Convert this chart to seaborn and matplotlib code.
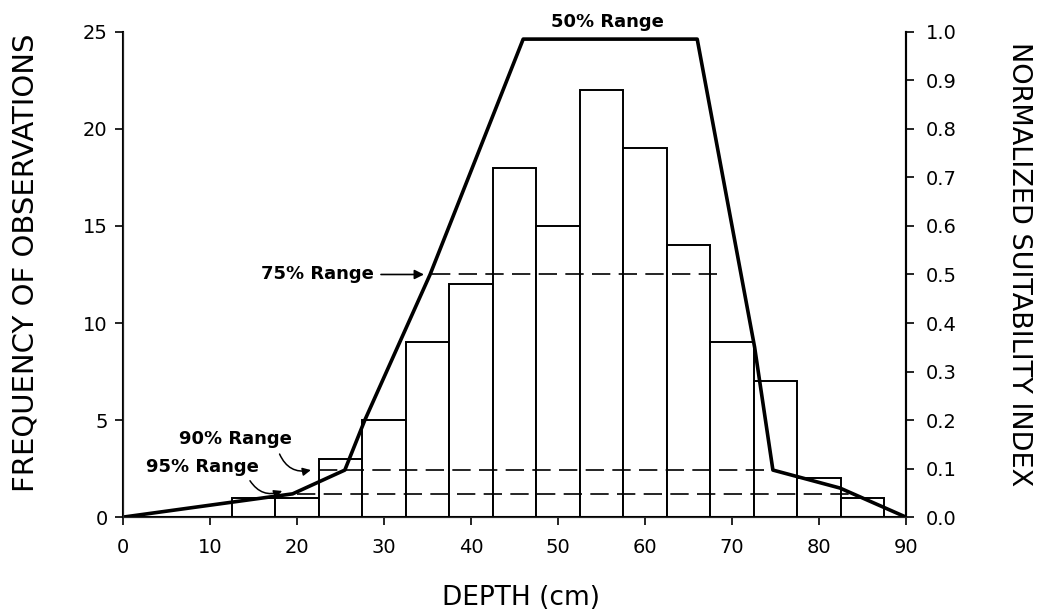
import numpy as np
import matplotlib
matplotlib.use("Agg")
import matplotlib.pyplot as plt
import seaborn as sns

# histogram of depths (5 cm classes)
bin_edges = [12.5, 17.5, 22.5, 27.5, 32.5, 37.5, 42.5, 47.5, 52.5, 57.5, 62.5, 67.5, 72.5, 77.5, 82.5, 87.5]
depth_mid = [15, 20, 25, 30, 35, 40, 45, 50, 55, 60, 65, 70, 75, 80, 85]
freq = [1, 1, 3, 5, 9, 12, 18, 15, 22, 19, 14, 9, 7, 2, 1]

# suitability index curve
curve_depth = [0, 19.5, 25.5, 27.8, 35.3, 46, 66, 72.6, 74.7, 82.4, 90]
curve_index = [0, 0.048, 0.097, 0.2, 0.5, 0.985, 0.985, 0.35, 0.097, 0.06, 0]

# range lines: (label, start, end, index level)
range_names = ["75% Range", "90% Range", "95% Range"]
range_start = [35.5, 22.5, 20.0]
range_end = [69.0, 74.7, 84.4]
range_level = [0.5, 0.097, 0.048]

left_ticks = [0, 5, 10, 15, 20, 25]
right_ticks = [0.0, 0.1, 0.2, 0.3, 0.4, 0.5, 0.6, 0.7, 0.8, 0.9, 1.0]
x_ticks = [0, 10, 20, 30, 40, 50, 60, 70, 80, 90]

sns.set_style("ticks")
plt.rcParams['font.family'] = ['DejaVu Sans']
plt.rcParams.update({"text.color": "black", "axes.labelcolor": "black",
                     "xtick.color": "black", "ytick.color": "black"})

fig = plt.figure(figsize=(10.42, 6.12), dpi=100)
ax = fig.add_axes([0.118, 0.155, 0.7515, 0.793])

sns.histplot(x=depth_mid, weights=freq, bins=bin_edges, ax=ax, color="white",
             edgecolor="black", linewidth=1.4, alpha=1)
ax.set_xlim(0, 90)
ax.set_ylim(0, 25)
ax.set_yticks(left_ticks)
ax.set_xticks(x_ticks)
ax.set_ylabel("")
ax.set_xlabel("")
ax.tick_params(axis="both", labelsize=14, width=1.2, length=6)
ax.tick_params(axis="x", pad=9)
ax.tick_params(axis="y", pad=5)
ax.spines["top"].set_visible(False)
for s in ["left", "bottom", "right"]:
    ax.spines[s].set_linewidth(1.5)
    ax.spines[s].set_color("black")

ax2 = ax.twinx()
sns.lineplot(x=curve_depth, y=curve_index, ax=ax2, sort=False, color="black", linewidth=2.6)
ax2.set_ylim(0, 1)
ax2.set_xlim(0, 90)
ax2.set_yticks(right_ticks)
ax2.set_yticklabels([f"{t:.1f}" for t in right_ticks])
ax2.set_ylabel("")
ax2.tick_params(axis="y", labelsize=14, width=1.2, length=6, pad=8)
ax2.spines["top"].set_visible(False)
ax2.spines["right"].set_linewidth(1.5)
ax2.spines["right"].set_color("black")

for name, x0, x1, lev in zip(range_names, range_start, range_end, range_level):
    ax2.hlines(lev, x0, x1, colors="black", linewidth=1.2, linestyles=(0, (11, 5)))

ax2.text(55.7, 1.02, "50% Range", ha="center", va="center", fontsize=13, fontweight="bold")

ax2.annotate("75% Range", xy=(34.6, 0.5), xytext=(28.8, 0.5), ha="right", va="center",
             fontsize=13, fontweight="bold",
             arrowprops=dict(arrowstyle="-|>", color="black", lw=1.2, mutation_scale=14,
                             shrinkA=3, shrinkB=0))

ax2.text(12.9, 0.16, "90% Range", ha="center", va="center", fontsize=13, fontweight="bold")
ax2.annotate("", xy=(21.6, 0.097), xytext=(18.0, 0.13),
             arrowprops=dict(arrowstyle="-|>", color="black", lw=1.1, mutation_scale=12,
                             connectionstyle="arc3,rad=0.4", shrinkA=0, shrinkB=0))

ax2.text(9.1, 0.104, "95% Range", ha="center", va="center", fontsize=13, fontweight="bold")
ax2.annotate("", xy=(18.3, 0.054), xytext=(14.6, 0.075),
             arrowprops=dict(arrowstyle="-|>", color="black", lw=1.1, mutation_scale=12,
                             connectionstyle="arc3,rad=0.4", shrinkA=0, shrinkB=0))

fig.text(0.024, 0.57, "FREQUENCY OF OBSERVATIONS", rotation=90, ha="center", va="center", fontsize=21)
fig.text(0.978, 0.568, "NORMALIZED SUITABILITY INDEX", rotation=-90, ha="center", va="center", fontsize=19.5)
fig.text(0.5, 0.023, "DEPTH (cm)", ha="center", va="center", fontsize=19)

fig.savefig("out.png", dpi=100, facecolor="white")
